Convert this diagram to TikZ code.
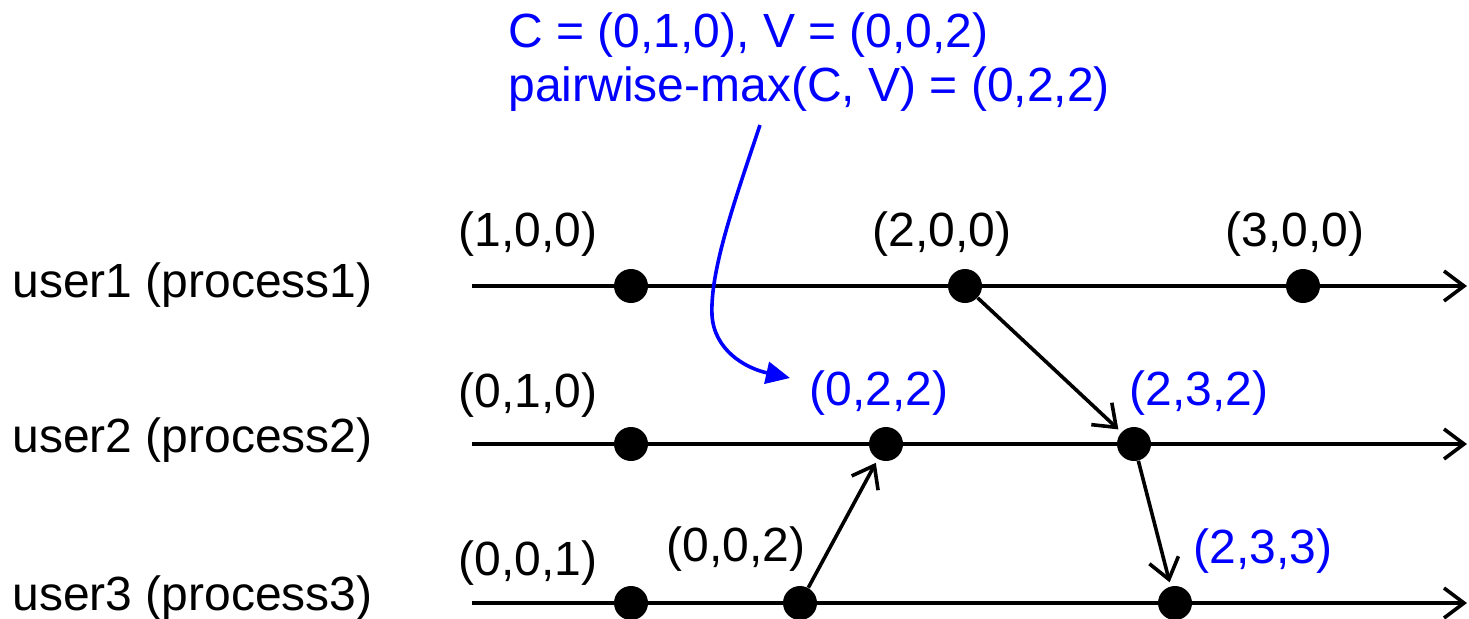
\documentclass[tikz,border=0pt]{standalone}
\usepackage{fontspec}
\setmainfont{Liberation Sans}
\usetikzlibrary{arrows.meta}

\begin{document}
\begin{tikzpicture}[x=0.5pt, y=-0.5pt, >={Straight Barb[length=10pt,width=15pt]},
	every node/.style={font=\fontsize{24}{27}\selectfont, inner sep=0pt},
	dot/.style={circle, fill=black, minimum size=17pt},
	tline/.style={->, line width=1.8pt},
	msg/.style={->, line width=1.8pt, shorten >=2pt},
	stamp/.style={text=blue}]
	\useasboundingbox (0,0) rectangle (1469,618);
	
	% 进程名
	\node[anchor=west] (p1) at (12,285) {user1 (process1)};
	\node[anchor=west] (p2) at (12,440) {user2 (process2)};
	\node[anchor=west] (p3) at (12,598) {user3 (process3)};
	
	% 时间轴
	\coordinate (s1) at (472,286); \coordinate (e1) at (1467,286);
	\coordinate (s2) at (472,444); \coordinate (e2) at (1467,444);
	\coordinate (s3) at (472,603); \coordinate (e3) at (1467,603);
	\draw[tline] (s1) -- (e1);
	\draw[tline] (s2) -- (e2);
	\draw[tline] (s3) -- (e3);
	
	% 事件
	\node[dot] (a1) at (631,286) {};
	\node[dot] (a2) at (965,286) {};
	\node[dot] (a3) at (1303,286) {};
	\node[dot] (b1) at (631,444) {};
	\node[dot] (b2) at (886,444) {};
	\node[dot] (b3) at (1134,444) {};
	\node[dot] (c1) at (631,603) {};
	\node[dot] (c2) at (800,603) {};
	\node[dot] (c3) at (1175,603) {};
	
	% 向量时钟
	\node (la1) at (528,234) {(1,0,0)};
	\node (la2) at (942,234) {(2,0,0)};
	\node (la3) at (1295,234) {(3,0,0)};
	\node (lb1) at (528,395) {(0,1,0)};
	\node[stamp] (lb2) at (879,393) {(0,2,2)};
	\node[stamp] (lb3) at (1199,393) {(2,3,2)};
	\node (lc1) at (528,563) {(0,0,1)};
	\node (lc2) at (736,549) {(0,0,2)};
	\node[stamp] (lc3) at (1263,551) {(2,3,3)};
	
	% 消息
	\draw[msg] (a2) -- (b3);
	\draw[msg] (b3) -- (c3);
	\draw[msg] (c2) -- (b2);
	
	% 说明
	\node[stamp, anchor=west, align=left] (note) at (508,62) {C = (0,1,0), V = (0,0,2)\\pairwise-max(C, V) = (0,2,2)};
	\coordinate (q) at (760,125);
	\coordinate (aim) at (790,378);
	\draw[blue, line width=1.8pt, -{Triangle[length=12pt,width=11pt]}] (q) .. controls (735,200) and (710,270) .. (712,315) .. controls (714,350) and (745,368) .. (aim);
\end{tikzpicture}
\end{document}
